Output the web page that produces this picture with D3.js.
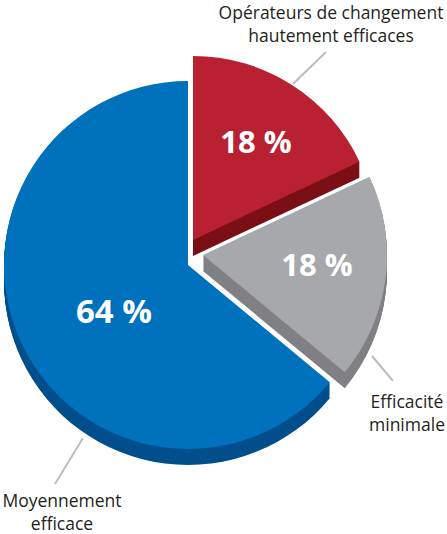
<!DOCTYPE html>
<html>
<head>
<meta charset="utf-8">
<script src="https://cdn.jsdelivr.net/npm/d3@7"></script>
<style>
  body { margin: 0; background: #fff; }
  text { font-family: "Open Sans", sans-serif; }
</style>
</head>
<body>
<svg width="447" height="534"></svg>
<script>
// data
var categories = ['Opérateurs de changement hautement efficaces', 'Efficacité minimale', 'Moyennement efficace'];
var values = [18, 18, 64];
var valueLabels = ['18 %', '18 %', '64 %'];
var nameLines = [['Opérateurs de changement', 'hautement efficaces'], ['Efficacité', 'minimale'], ['Moyennement', 'efficace']];

// styles
var topColors = ['#b92032', '#a7a8ab', '#0071bc'];
var sideColors = ['#7b1017', '#808184', '#014f8c'];
var centers = [[193, 240], [203, 255], [188, 265]];
var pctPos = [[256, 153], [317, 276], [114, 323]];
var leaders = [[[326, 52], [293, 84]], [[372, 356], [393, 381]], [[83, 438], [55, 484]]];
var namePos = [[331, 19], [407, 408], [62, 507]];
var nameSize = [17.5, 17.5, 17.5];

var radius = 184;
var depth = 16;

var svg = d3.select('svg');

var pie = d3.pie().sort(null).value(d => d)(values);
var arc = d3.arc().innerRadius(0).outerRadius(radius);

// leader lines
leaders.forEach(function (l) {
    svg.append('line')
        .attr('x1', l[0][0]).attr('y1', l[0][1])
        .attr('x2', l[1][0]).attr('y2', l[1][1])
        .attr('stroke', '#bcbdbf')
        .attr('stroke-width', 2);
});

// draw bottom-most slices first (blue, gray, red)
var order = [2, 1, 0];
order.forEach(function (i) {
    var g = svg.append('g')
        .attr('transform', `translate(${centers[i][0]},${centers[i][1]})`);
    for (var k = depth; k > 0; k--) {
        g.append('path')
            .attr('d', arc(pie[i]))
            .attr('transform', `translate(0,${k})`)
            .attr('fill', sideColors[i]);
    }
    g.append('path')
        .attr('d', arc(pie[i]))
        .attr('fill', topColors[i]);
});

// percentages
valueLabels.forEach(function (t, i) {
    svg.append('text')
        .attr('x', pctPos[i][0])
        .attr('y', pctPos[i][1])
        .attr('text-anchor', 'middle')
        .attr('font-size', i == 2 ? 33 : 31)
        .attr('font-weight', 700)
        .attr('fill', '#fff')
        .text(t);
});

// category labels
nameLines.forEach(function (lines, i) {
    lines.forEach(function (line, j) {
        svg.append('text')
            .attr('x', namePos[i][0])
            .attr('y', namePos[i][1] + j * 22.5)
            .attr('text-anchor', 'middle')
            .attr('font-size', nameSize[i])
            .attr('fill', '#231f20')
            .text(line);
    });
});
</script>
</body>
</html>
